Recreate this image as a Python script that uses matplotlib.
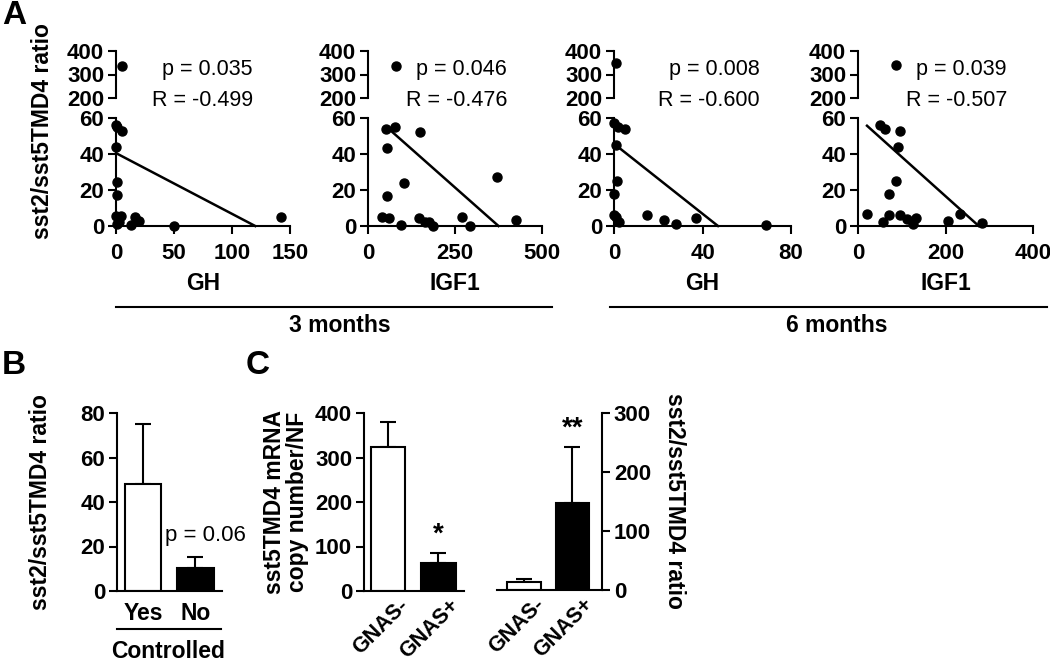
import numpy as np
import matplotlib
matplotlib.use("Agg")
import matplotlib.pyplot as plt
import matplotlib.transforms as mtransforms
from matplotlib.lines import Line2D

plt.rcParams["font.family"] = ["Liberation Sans", "DejaVu Sans"]
plt.rcParams["font.weight"] = "bold"
plt.rcParams["axes.linewidth"] = 1.5

# ---- Panel A data: sst2/sst5TMD4 ratio vs GH / IGF1 ----
gh3_x = [5, 0.3, 1, 5, 0.2, 0.5, 0.7, 0, 4, 2.5, 1, 13, 16, 19.5, 50, 142]
gh3_y = [336, 56, 55, 53, 44, 24.5, 17, 5.5, 5.5, 2, 1, 0.5, 5, 3, 0, 5]
igf3_x = [80, 51, 77, 148, 55, 103, 54, 40, 61, 96, 146, 163, 176, 187, 269, 293, 370, 425]
igf3_y = [337, 54, 55, 52.5, 43.5, 24, 16.5, 5, 4.2, 0.5, 4.5, 2, 2.5, 0, 5, 0, 27, 3.5]
gh6_x = [1, 0.2, 2, 5, 1, 1.5, 0.2, 0, 1, 2.3, 15, 22.5, 28, 37, 68.5]
gh6_y = [348, 57, 55, 54, 45, 25, 18, 6, 5, 2, 6, 3.3, 1, 4.3, 0.6]
igf6_x = [87, 50, 62, 96, 92, 86, 70, 21, 71, 95, 58, 113, 126, 133, 205, 233, 283]
igf6_y = [341, 56, 54, 53, 44, 25, 18, 6.5, 6, 6, 2, 3.7, 1, 4.6, 2.8, 6.5, 1.5]

# regression lines (start / end)
gh3_fit = ([0, 120], [40.5, 0])
igf3_fit = ([67, 375], [52.7, 0])
gh6_fit = ([0, 47], [45.7, 0])
igf6_fit = ([20.6, 276], [55.7, 0])

p_values = ["0.035", "0.046", "0.008", "0.039"]
r_values = ["-0.499", "-0.476", "-0.600", "-0.507"]
x_names = ["GH", "IGF1", "GH", "IGF1"]
x_ticks = [[0, 50, 100, 150], [0, 250, 500], [0, 40, 80], [0, 200, 400]]
periods = ["3 months", "6 months"]

# ---- Panel B ----
b_groups = ["Yes", "No"]
b_means = [48, 10.2]
b_err = [27, 5.2]

# ---- Panel C ----
c_groups = ["GNAS-", "GNAS+"]
c_copy_means = [324, 64]
c_copy_err = [56, 21]
c_ratio_means = [13, 147]
c_ratio_err = [5, 96]

W, H = 1050, 667
fig = plt.figure(figsize=(W / 100, H / 100), dpi=100)


def add_ax(x0, y_top, x1, y_bot):
    return fig.add_axes([x0 / W, 1 - y_bot / H, (x1 - x0) / W, (y_bot - y_top) / H])


def ftext(x, y, s, **kw):
    fig.text(x / W, 1 - y / H, s, **kw)


def fline(x0, x1, y):
    fig.add_artist(Line2D([x0 / W, x1 / W], [1 - y / H, 1 - y / H], color="black", lw=1.5))


tick_fs = 16
lab_fs = 16.5
p_fs = 15.5

datasets = [(gh3_x, gh3_y, gh3_fit), (igf3_x, igf3_y, igf3_fit),
            (gh6_x, gh6_y, gh6_fit), (igf6_x, igf6_y, igf6_fit)]
ax_left = [116, 368, 614, 858]
ax_right = [290, 542, 791, 1033]
text_right = [253, 507, 760, 1007]

for i, (xs, ys, fit) in enumerate(datasets):
    xs = np.array(xs)
    ys = np.array(ys)
    x0, x1 = ax_left[i], ax_right[i]
    top = add_ax(x0, 51, x1, 98)
    bot = add_ax(x0, 118, x1, 226)
    xmax = x_ticks[i][-1]
    for ax in (top, bot):
        ax.set_xlim(0, xmax)
        ax.spines["top"].set_visible(False)
        ax.spines["right"].set_visible(False)
        ax.tick_params(width=1.5, length=5.5, labelsize=tick_fs, pad=3)
        ax.patch.set_alpha(0)
    top.set_ylim(200, 400)
    top.set_yticks([200, 300, 400])
    top.spines["bottom"].set_visible(False)
    top.set_xticks([])
    bot.set_ylim(0, 60)
    bot.set_yticks([0, 20, 40, 60])
    bot.set_xticks(x_ticks[i])
    bot.tick_params(axis="x", pad=7)
    hi = ys >= 200
    top.plot(xs[hi], ys[hi], "o", color="black", ms=6.5, clip_on=False)
    bot.plot(xs[~hi], ys[~hi], "o", color="black", ms=6.5, clip_on=False)
    bot.plot(fit[0], fit[1], color="black", lw=1.8, clip_on=False)
    ftext((x0 + x1) / 2, 283, x_names[i], ha="center", va="center", fontsize=lab_fs)
    ftext(text_right[i], 70, "p = " + p_values[i], ha="right", va="center",
          fontsize=p_fs, fontweight="normal")
    ftext(text_right[i], 101, "R = " + r_values[i], ha="right", va="center",
          fontsize=p_fs, fontweight="normal")

ftext(43, 131, "sst2/sst5TMD4 ratio", rotation=90, ha="center", va="center", fontsize=lab_fs)
fline(116, 552, 307)
fline(610, 1047, 307)
ftext(340, 325, periods[0], ha="center", va="center", fontsize=lab_fs)
ftext(837, 325, periods[1], ha="center", va="center", fontsize=lab_fs)


def style_bar_ax(ax):
    ax.spines["top"].set_visible(False)
    ax.spines["right"].set_visible(False)
    ax.tick_params(width=1.5, length=5.5, labelsize=tick_fs, pad=3)
    ax.tick_params(axis="x", length=0)


def draw_bars(ax, means, errs):
    ax.bar([0, 1], means, width=0.69, color=["white", "black"], edgecolor="black",
           linewidth=1.5, zorder=2)
    ax.errorbar([0, 1], means, yerr=[[0, 0], errs], fmt="none", ecolor="black",
                elinewidth=1.5, capsize=5.5, capthick=1.5, zorder=1)


def gnas_labels(ax):
    ax.set_xticks([0, 1])
    ax.set_xticklabels(c_groups, rotation=45, ha="right", rotation_mode="anchor",
                       fontsize=15.5)
    ax.tick_params(axis="x", pad=3)
    shift = mtransforms.ScaledTranslation(7 / 72, 0, fig.dpi_scale_trans)
    for lab in ax.get_xticklabels():
        lab.set_transform(lab.get_transform() + shift)


# ---- B ----
axb = add_ax(117, 413, 222, 591)
style_bar_ax(axb)
draw_bars(axb, b_means, b_err)
axb.set_xlim(-0.495, 1.505)
axb.set_ylim(0, 80)
axb.set_yticks([0, 20, 40, 60, 80])
axb.set_xticks([0, 1])
axb.set_xticklabels(b_groups, fontsize=lab_fs)
axb.tick_params(axis="x", pad=8)
ftext(165, 536, "p = 0.06", ha="left", va="center", fontsize=p_fs + 0.5, fontweight="normal")
ftext(41, 502, "sst2/sst5TMD4 ratio", rotation=90, ha="center", va="center", fontsize=lab_fs)
fline(117, 221, 629)
ftext(168, 652, "Controlled", ha="center", va="center", fontsize=lab_fs)

# ---- C left ----
axc1 = add_ax(364, 413, 464, 591)
style_bar_ax(axc1)
draw_bars(axc1, c_copy_means, c_copy_err)
axc1.set_xlim(-0.477, 1.511)
axc1.set_ylim(0, 400)
axc1.set_yticks([0, 100, 200, 300, 400])
gnas_labels(axc1)
axc1.text(1, c_copy_means[1] + c_copy_err[1] + 12, "*", ha="center", va="bottom",
          fontsize=20)
ftext(286, 502, "sst5TMD4 mRNA\ncopy number/NF", rotation=90, ha="center",
      va="center", fontsize=lab_fs, linespacing=1.0)

# ---- C right ----
axc2 = add_ax(497, 413, 602, 590)
axc2.spines["top"].set_visible(False)
axc2.spines["left"].set_visible(False)
axc2.yaxis.tick_right()
axc2.tick_params(width=1.5, length=5.5, labelsize=tick_fs, pad=3)
axc2.tick_params(axis="x", length=0)
draw_bars(axc2, c_ratio_means, c_ratio_err)
axc2.set_xlim(-0.547, 1.605)
axc2.set_ylim(0, 300)
axc2.set_yticks([0, 100, 200, 300])
gnas_labels(axc2)
axc2.text(1, c_ratio_means[1] + c_ratio_err[1] + 8, "**", ha="center", va="bottom",
          fontsize=20)
ftext(674, 501, "sst2/sst5TMD4 ratio", rotation=270, ha="center", va="center",
      fontsize=lab_fs)

# panel letters
ftext(14, 15, "A", ha="center", va="center", fontsize=24)
ftext(14, 366, "B", ha="center", va="center", fontsize=24)
ftext(258, 366, "C", ha="center", va="center", fontsize=24)

fig.savefig("out.png", dpi=100)
